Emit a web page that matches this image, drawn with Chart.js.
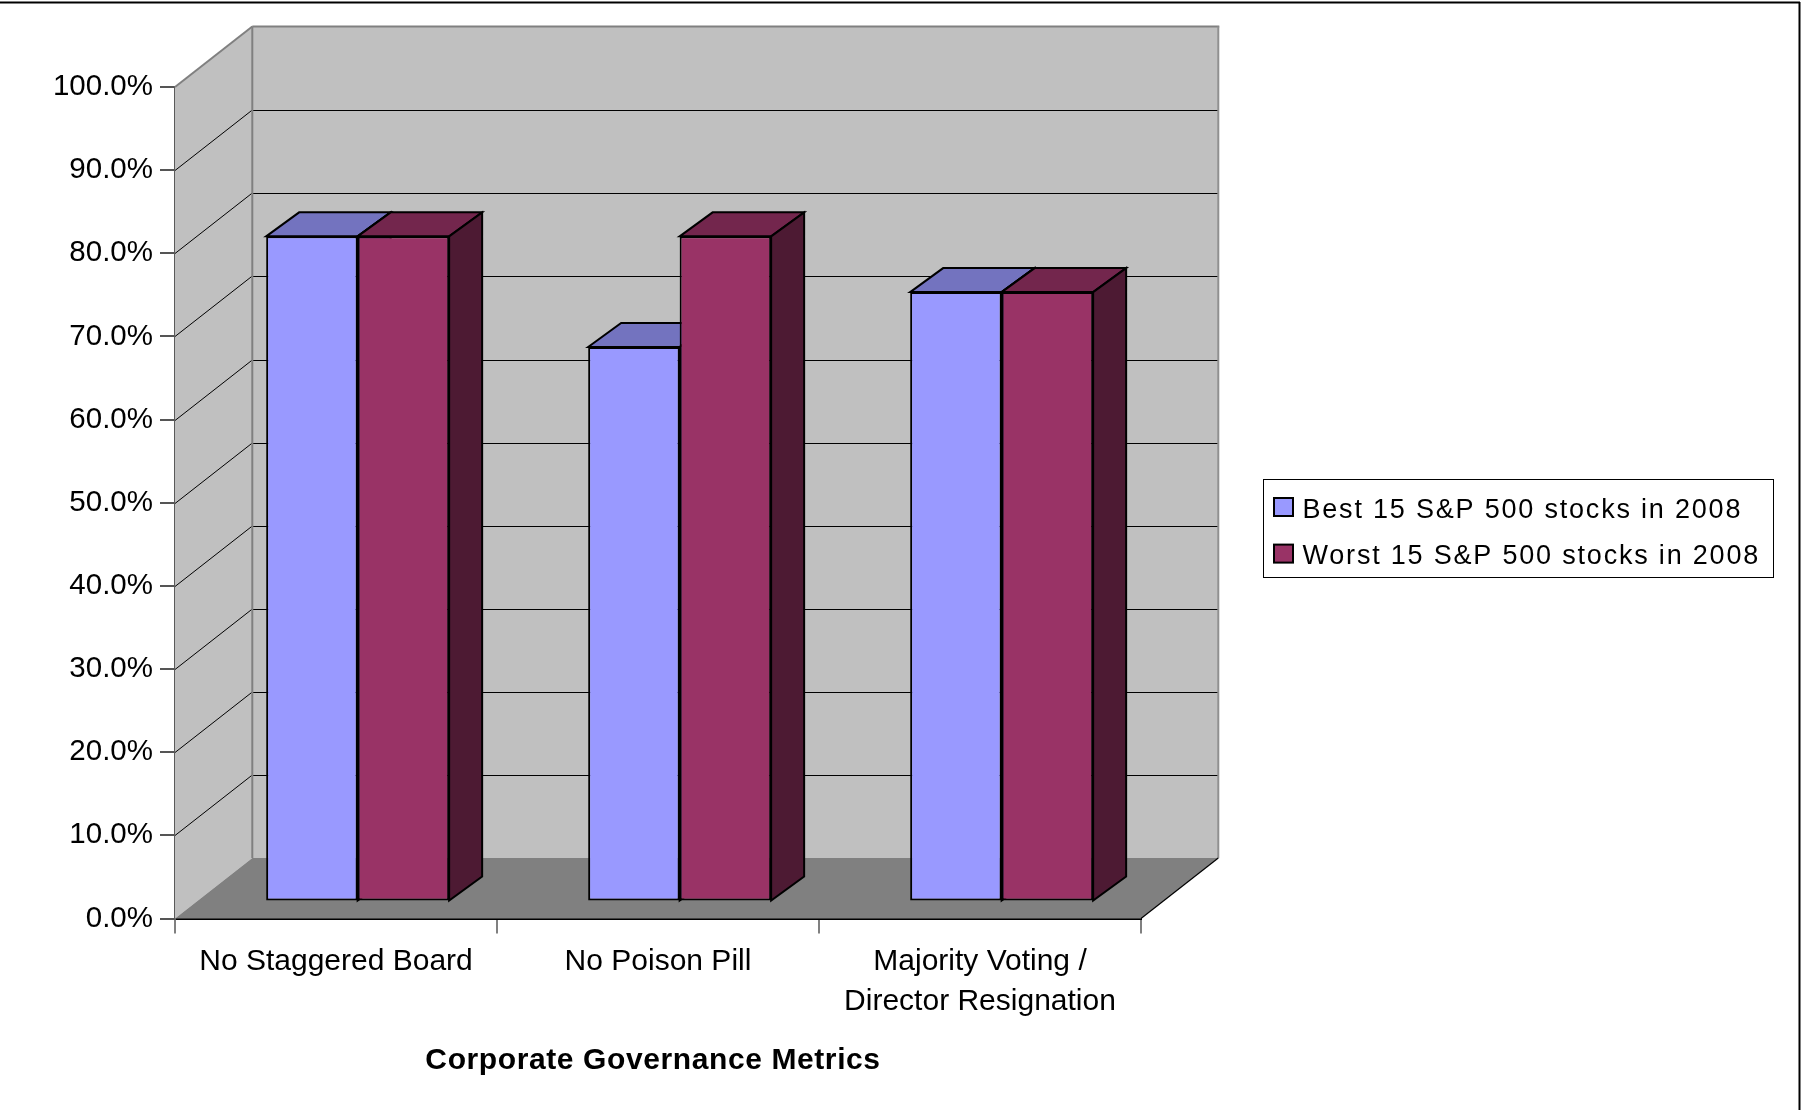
<!DOCTYPE html>
<html>
<head>
<meta charset="utf-8">
<script src="https://cdn.jsdelivr.net/npm/chart.js@4.4.1/dist/chart.umd.min.js"></script>
<style>
  html, body { margin: 0; padding: 0; background: #ffffff; }
  #wrap { width: 1802px; height: 1110px; position: relative; }
  canvas { display: block; }
</style>
</head>
<body>
<div id="wrap"><canvas id="chart" width="1802" height="1110"></canvas></div>
<script>
// ---------------- data ----------------
const categories = ['No Staggered Board', 'No Poison Pill', ['Majority Voting /', 'Director Resignation']];
const seriesNames = ['Best 15 S&P 500 stocks in 2008', 'Worst 15 S&P 500 stocks in 2008'];
const bestValues = [80.0, 66.7, 73.3];
const worstValues = [80.0, 80.0, 73.3];
const yTickLabels = ['0.0%', '10.0%', '20.0%', '30.0%', '40.0%', '50.0%', '60.0%', '70.0%', '80.0%', '90.0%', '100.0%'];
const xAxisTitle = 'Corporate Governance Metrics';

// ---------------- styling ----------------
const FONT = '"Liberation Sans", Arial, Helvetica, sans-serif';
const frontColors = ['#9999FF', '#993366'];
const topColors = ['#7373BF', '#73264D'];
const sideColors = ['#4D4D80', '#4D1A33'];
const WALL_DX = 77.3, WALL_DY = 60.5;   // depth of the 3D box
const BAR_Z = 0.28;                      // bar front plane as a fraction of the depth
const BAR_DX = 33, BAR_DY = 24;          // bar depth

function poly(ctx, pts, fill, stroke, lw) {
  ctx.beginPath();
  ctx.moveTo(pts[0][0], pts[0][1]);
  for (let i = 1; i < pts.length; i++) ctx.lineTo(pts[i][0], pts[i][1]);
  ctx.closePath();
  if (fill) { ctx.fillStyle = fill; ctx.fill(); }
  if (stroke) { ctx.strokeStyle = stroke; ctx.lineWidth = lw || 1; ctx.lineJoin = 'miter'; ctx.stroke(); }
}
function seg(ctx, x1, y1, x2, y2, color, lw) {
  ctx.beginPath();
  ctx.moveTo(x1, y1); ctx.lineTo(x2, y2);
  ctx.strokeStyle = color; ctx.lineWidth = lw; ctx.stroke();
}

const box3d = {
  id: 'box3d',
  beforeDatasetsDraw(chart) {
    const ctx = chart.ctx;
    const { left, right } = chart.chartArea;
    const ys = chart.scales.y;
    const y0 = ys.getPixelForValue(0), y100 = ys.getPixelForValue(100);
    const DX = WALL_DX, DY = WALL_DY;
    ctx.save();
    // walls and floor
    poly(ctx, [[left, y0], [left, y100], [left + DX, y100 - DY], [left + DX, y0 - DY]], '#C0C0C0');
    poly(ctx, [[left + DX, y100 - DY], [right + DX, y100 - DY], [right + DX, y0 - DY], [left + DX, y0 - DY]], '#C0C0C0');
    poly(ctx, [[left, y0], [right, y0], [right + DX, y0 - DY], [left + DX, y0 - DY]], '#808080');
    // gridlines on the side wall and back wall
    ys.ticks.forEach(t => {
      if (t.value <= 0 || t.value >= 100) return;
      const py = Math.round(ys.getPixelForValue(t.value)) + 0.5;
      seg(ctx, left, py, left + DX, py - DY, '#000', 1);
      seg(ctx, left + DX, Math.round(py - DY) + 0.5, right + DX, Math.round(py - DY) + 0.5, '#000', 1.2);
    });
    // wall edges
    seg(ctx, left, y100, left + DX, y100 - DY, '#808080', 2);
    seg(ctx, left + DX, y100 - DY, right + DX + 1, y100 - DY, '#808080', 2);
    seg(ctx, left + DX, y100 - DY, left + DX, y0 - DY, '#808080', 2);
    seg(ctx, right + DX, y100 - DY, right + DX, y0 - DY, '#909090', 2);
    seg(ctx, right, y0, right + DX, y0 - DY, '#000', 1.2);

    // bars, drawn category by category so the faces overlap correctly
    const metas = [chart.getDatasetMeta(0), chart.getDatasetMeta(1)];
    const ox = DX * BAR_Z, oy = -DY * BAR_Z;
    for (let i = 0; i < categories.length; i++) {
      metas.forEach((m, di) => {
        const el = m.data[i];
        ctx.save();
        ctx.translate(ox, oy);
        el.draw(ctx);
        const p = el.getProps(['x', 'y', 'base', 'width'], true);
        const xl = p.x - p.width / 2, xr = p.x + p.width / 2;
        poly(ctx, [[xl, p.y], [xl + BAR_DX, p.y - BAR_DY], [xr + BAR_DX, p.y - BAR_DY], [xr, p.y]], topColors[di], '#000', 2);
        poly(ctx, [[xr, p.y], [xr + BAR_DX, p.y - BAR_DY], [xr + BAR_DX, p.base - BAR_DY], [xr, p.base]], sideColors[di], '#000', 2);
        ctx.restore();
      });
    }
    ctx.restore();
    return false;
  }
};

const legendBox = {
  id: 'legendBox',
  afterDraw(chart) {
    const ctx = chart.ctx;
    ctx.save();
    // outer frame of the chart
    seg(ctx, 0, 2.5, 1800, 2.5, '#000', 2);
    seg(ctx, 1799.5, 2, 1799.5, 1110, '#000', 2);
    // axis title, centred under the category axis
    ctx.font = 'bold 30px ' + FONT;
    try { ctx.letterSpacing = '0.6px'; } catch (e) {}
    ctx.fillStyle = '#000';
    ctx.textAlign = 'center';
    ctx.textBaseline = 'alphabetic';
    ctx.fillText(xAxisTitle, 653, 1068.7);
    // legend
    const bx = 1263.5, by = 479.5, bw = 510, bh = 98;
    ctx.fillStyle = '#fff';
    ctx.fillRect(bx, by, bw, bh);
    ctx.strokeStyle = '#000'; ctx.lineWidth = 1;
    ctx.strokeRect(bx, by, bw, bh);
    ctx.font = '27px ' + FONT;
    try { ctx.letterSpacing = '1.8px'; } catch (e) {}
    ctx.textAlign = 'left';
    ctx.textBaseline = 'alphabetic';
    chart.data.datasets.forEach((ds, i) => {
      const base = 517.5 + i * 46.6;
      ctx.fillStyle = ds.backgroundColor;
      ctx.fillRect(1274, base - 19.5, 19, 18);
      ctx.strokeStyle = '#000'; ctx.lineWidth = 2;
      ctx.strokeRect(1274, base - 19.5, 19, 18);
      ctx.fillStyle = '#000';
      ctx.fillText(ds.label, 1302.5, base);
    });
    ctx.restore();
  }
};

new Chart(document.getElementById('chart'), {
  type: 'bar',
  data: {
    labels: categories,
    datasets: [
      { label: seriesNames[0], data: bestValues, backgroundColor: frontColors[0], borderColor: '#000', borderWidth: 2, borderSkipped: false },
      { label: seriesNames[1], data: worstValues, backgroundColor: frontColors[1], borderColor: '#000', borderWidth: 2, borderSkipped: false }
    ]
  },
  options: {
    responsive: false,
    animation: false,
    devicePixelRatio: 1,
    layout: { padding: { left: 0, top: 87, right: 661, bottom: 0 } },
    datasets: { bar: { categoryPercentage: 0.5683, barPercentage: 1.0 } },
    plugins: { legend: { display: false }, tooltip: { enabled: false }, title: { display: false } },
    scales: {
      x: {
        type: 'category',
        offset: true,
        z: 1,
        grid: { display: true, drawOnChartArea: false, drawTicks: true, tickLength: 15, color: '#808080', lineWidth: 2, offset: true },
        border: { display: true, color: '#000', width: 2 },
        ticks: { color: '#000', font: { family: FONT, size: 30, lineHeight: 1.33 }, padding: 8.2, maxRotation: 0, autoSkip: false },
        title: { display: false, text: xAxisTitle },
        afterFit(scale) { scale.height = 1110 - 918.5; }
      },
      y: {
        min: 0, max: 100,
        z: 1,
        grid: { display: true, drawOnChartArea: false, drawTicks: true, tickLength: 15, color: '#555', lineWidth: 2 },
        border: { display: true, color: '#5a5a5a', width: 2 },
        ticks: { stepSize: 10, color: '#000', font: { family: FONT, size: 29.5 }, padding: 7,
                 callback: (value, index) => yTickLabels[index] },
        afterFit(scale) { scale.width = 175; }
      }
    }
  },
  plugins: [box3d, legendBox]
});
</script>
</body>
</html>
